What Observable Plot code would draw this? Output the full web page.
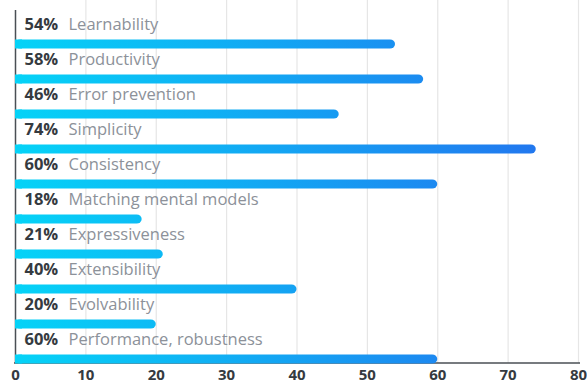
<!DOCTYPE html>
<html>
<head>
<meta charset="utf-8">
<script src="https://cdn.jsdelivr.net/npm/d3@7"></script>
<script src="https://cdn.jsdelivr.net/npm/@observablehq/plot@0.6"></script>
<style>
  html, body { margin: 0; padding: 0; background: #fff; }
  #chart svg { display: block; }
</style>
</head>
<body>
<div id="chart"></div>
<script>
const categories = ["Learnability", "Productivity", "Error prevention", "Simplicity", "Consistency", "Matching mental models", "Expressiveness", "Extensibility", "Evolvability", "Performance, robustness"];
const values = [54, 58, 46, 74, 60, 18, 21, 40, 20, 60];
const xTicks = [0, 10, 20, 30, 40, 50, 60, 70, 80];

const data = categories.map((name, i) => ({name, value: values[i], label: values[i] + "%"}));

const gradientDefs = (index, scales, vals, dims) => {
  const defs = d3.create("svg:defs");
  const g = defs.append("linearGradient")
    .attr("id", "barGrad")
    .attr("gradientUnits", "userSpaceOnUse")
    .attr("x1", scales.x(0)).attr("x2", scales.x(80))
    .attr("y1", 0).attr("y2", 0);
  g.append("stop").attr("offset", "0%").attr("stop-color", "#05d3f7");
  g.append("stop").attr("offset", "100%").attr("stop-color", "#2470ee");
  return defs.node();
};

const bottomLine = (index, scales, vals, dims) => {
  const y = dims.height - dims.marginBottom;
  return d3.create("svg:line")
    .attr("x1", dims.marginLeft - 1).attr("x2", dims.width - dims.marginRight + 2)
    .attr("y1", y).attr("y2", y)
    .attr("stroke", "#4a4f55").attr("stroke-width", 1.5).node();
};

const chart = Plot.plot({
  width: 587,
  height: 384,
  marginLeft: 15,
  marginRight: 9,
  marginTop: 0,
  marginBottom: 21,
  style: {fontFamily: "'Source Sans Pro', 'Open Sans', sans-serif", fontSize: "15px", fontWeight: "bold", color: "#353a40", background: "#fff"},
  x: {domain: [0, 80], ticks: xTicks, tickSize: 0, tickPadding: 6, label: null},
  y: {domain: categories, range: [10.8, 368], padding: 0, axis: null},
  marks: [
    gradientDefs,
    Plot.ruleX(xTicks.slice(1), {stroke: "#e6e6e6", strokeWidth: 1.2}),
    Plot.ruleX([0], {stroke: "#4a4f55", strokeWidth: 1.5, insetTop: 10}),
    bottomLine,
    Plot.barX(data, {x: "value", y: "name", fill: "url(#barGrad)", rx: 5, insetTop: 25.5, insetBottom: 0.5}),
    Plot.barX(data, {x1: () => 0, x2: () => 1, y: "name", fill: "url(#barGrad)", insetTop: 25.5, insetBottom: 0.5}),
    Plot.text(data, {x: () => 0, y: "name", text: "label", textAnchor: "start", dx: 9, dy: -7.5, fontSize: 16.5, fontWeight: "bold", fill: "#353a40"}),
    Plot.text(data, {x: () => 0, y: "name", text: "name", textAnchor: "start", dx: 53, dy: -7.5, fontSize: 16.5, fontWeight: "normal", fill: "#8c9199"})
  ]
});
document.getElementById("chart").appendChild(chart);
</script>
</body>
</html>
